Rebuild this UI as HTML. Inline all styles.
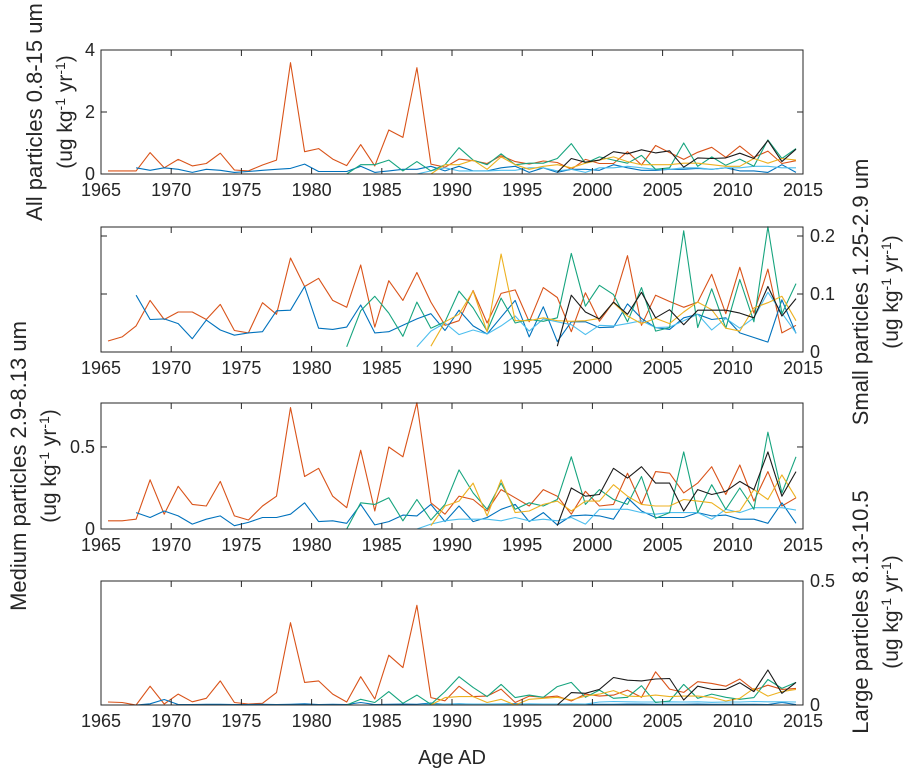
<!DOCTYPE html>
<html><head><meta charset="utf-8"><style>
body{margin:0;background:#fff;}
svg{display:block;font-family:"Liberation Sans",Arial,sans-serif;}
</style></head><body>
<svg id="c" width="914" height="774"></svg>
<script>
const years0 = [1965, 1970, 1975, 1980, 1985, 1990, 1995, 2000, 2005, 2010, 2015];
// start years of each series (data at half-years)
const startOrange = 1965.5, startBlue = 1967.5, startGreen = 1982.5, startYellow = 1988.5, startBlack = 1997.5, startLight = 1987.5;

// Panel 1: All particles
const allOrange = [0.1,0.1,0.1,0.69,0.2,0.47,0.26,0.34,0.67,0.13,0.1,0.29,0.45,3.59,0.72,0.82,0.48,0.27,0.95,0.26,1.42,1.18,3.43,0.32,0.22,0.48,0.43,0.34,0.59,0.4,0.32,0.42,0.37,0.15,0.47,0.34,0.34,0.72,0.29,0.92,0.69,0.47,0.7,0.86,0.54,0.9,0.54,0.74,0.34,0.43];
const allBlue = [0.2,0.12,0.2,0.15,0.05,0.15,0.12,0.05,0.08,0.12,0.15,0.18,0.32,0.08,0.08,0.08,0.25,0.05,0.1,0.15,0.15,0.25,0.1,0.25,0.1,0.1,0.2,0.25,0.05,0.2,0.05,0.15,0.15,0.12,0.3,0.2,0.12,0.12,0.15,0.15,0.18,0.15,0.2,0.1,0.1,0.05,0.3,0.05];
const allGreen = [0,0.3,0.3,0.45,0.1,0.4,0.1,0.3,0.85,0.45,0.3,0.65,0.3,0.35,0.35,0.5,0.98,0.35,0.55,0.45,0.35,0.6,0.15,0.2,1.0,0.25,0.55,0.28,0.48,0.25,1.1,0.5,0.82];
const allYellow = [0,0.3,0.3,0.45,0.15,0.55,0.3,0.15,0.25,0.3,0.2,0.35,0.45,0.55,0.4,0.3,0.3,0.3,0.35,0.35,0.3,0.25,0.25,0.5,0.35,0.5,0.45];
const allBlack = [0.05,0.5,0.38,0.45,0.72,0.65,0.78,0.68,0.75,0.22,0.52,0.5,0.52,0.67,0.5,1.08,0.4,0.8];
const allLight = [0,0.1,0.2,0.1,0.1,0.1,0.12,0.12,0.2,0.2,0.1,0.15,0.05,0.2,0.2,0.25,0.2,0.15,0.15,0.2,0.2,0.15,0.2,0.2,0.25,0.25,0.2,0.2];

// Panel 2: Small particles
const smallOrange = [0.019,0.026,0.045,0.089,0.056,0.069,0.069,0.056,0.082,0.037,0.033,0.085,0.065,0.162,0.113,0.127,0.089,0.077,0.15,0.043,0.123,0.089,0.137,0.086,0.046,0.054,0.106,0.05,0.101,0.107,0.052,0.111,0.094,0.035,0.102,0.053,0.086,0.166,0.046,0.098,0.087,0.077,0.086,0.134,0.066,0.146,0.067,0.143,0.033,0.046];
const smallBlue = [0.098,0.056,0.057,0.049,0.023,0.055,0.038,0.029,0.033,0.035,0.071,0.072,0.113,0.041,0.039,0.043,0.081,0.033,0.035,0.046,0.057,0.066,0.037,0.072,0.045,0.031,0.06,0.089,0.026,0.078,0.018,0.052,0.052,0.042,0.043,0.083,0.058,0.042,0.039,0.059,0.065,0.056,0.059,0.033,0.025,0.017,0.09,0.032];
const smallGreen = [0.009,0.071,0.096,0.067,0.027,0.086,0.041,0.052,0.105,0.076,0.036,0.093,0.05,0.056,0.053,0.059,0.17,0.079,0.115,0.099,0.052,0.111,0.036,0.042,0.209,0.042,0.109,0.041,0.125,0.052,0.216,0.066,0.118];
const smallYellow = [0.01,0.052,0.065,0.105,0.035,0.169,0.054,0.054,0.059,0.054,0.053,0.054,0.058,0.085,0.062,0.049,0.058,0.049,0.069,0.086,0.073,0.041,0.036,0.076,0.085,0.096,0.054];
const smallBlack = [0.01,0.098,0.069,0.057,0.086,0.065,0.103,0.059,0.073,0.047,0.072,0.072,0.072,0.067,0.059,0.113,0.062,0.092];
const smallLight = [0.009,0.036,0.05,0.03,0.038,0.031,0.045,0.062,0.036,0.057,0.052,0.047,0.03,0.046,0.045,0.049,0.054,0.042,0.043,0.054,0.065,0.038,0.058,0.041,0.059,0.103,0.067,0.033];

// Panel 3: Medium particles
const medOrange = [0.05,0.05,0.06,0.3,0.09,0.26,0.15,0.14,0.29,0.08,0.055,0.14,0.2,0.74,0.32,0.37,0.2,0.13,0.48,0.11,0.5,0.44,0.77,0.16,0.09,0.2,0.18,0.11,0.24,0.19,0.14,0.24,0.2,0.09,0.23,0.14,0.15,0.34,0.15,0.35,0.34,0.22,0.28,0.38,0.21,0.39,0.17,0.35,0.14,0.19];
const medBlue = [0.1,0.07,0.11,0.08,0.03,0.06,0.08,0.02,0.04,0.07,0.07,0.09,0.16,0.045,0.05,0.035,0.15,0.025,0.045,0.085,0.08,0.15,0.045,0.14,0.045,0.07,0.12,0.15,0.045,0.1,0.025,0.08,0.085,0.08,0.06,0.19,0.11,0.07,0.07,0.07,0.1,0.08,0.085,0.06,0.06,0.035,0.16,0.035];
const medGreen = [0,0.16,0.15,0.19,0.05,0.18,0.055,0.15,0.36,0.22,0.12,0.28,0.12,0.16,0.14,0.18,0.44,0.15,0.24,0.18,0.15,0.32,0.065,0.1,0.47,0.1,0.27,0.12,0.25,0.12,0.59,0.22,0.44];
const medYellow = [0.02,0.14,0.17,0.28,0.08,0.3,0.1,0.11,0.15,0.17,0.11,0.17,0.17,0.27,0.2,0.15,0.14,0.14,0.18,0.17,0.16,0.1,0.11,0.24,0.18,0.33,0.19];
const medBlack = [0.02,0.25,0.2,0.21,0.37,0.31,0.38,0.28,0.28,0.11,0.24,0.21,0.23,0.29,0.24,0.47,0.2,0.35];
const medLight = [0,0.03,0.05,0.06,0.06,0.06,0.05,0.07,0.05,0.06,0.05,0.07,0.03,0.12,0.12,0.12,0.1,0.09,0.1,0.1,0.1,0.06,0.12,0.1,0.13,0.13,0.13,0.115];

// Panel 4: Large particles
const largeOrange = [0.012,0.01,0,0.076,0.004,0.044,0.013,0.027,0.097,0.01,0.004,0.007,0.05,0.332,0.091,0.097,0.044,0.012,0.114,0.024,0.201,0.151,0.402,0.03,0.017,0.076,0.034,0.036,0.064,0.01,0.036,0.031,0.036,0.016,0.044,0.036,0.04,0.06,0.031,0.134,0.064,0.051,0.094,0.087,0.076,0.105,0.06,0.08,0.063,0.067];
const largeBlue = [0,0.005,0.022,0.002,0.002,0.003,0.003,0.002,0.002,0.003,0.002,0.003,0.005,0.002,0.003,0.002,0.01,0.002,0.003,0.004,0.003,0.008,0.003,0.005,0.003,0.003,0.004,0.006,0.002,0.004,0.002,0.003,0.003,0.003,0.003,0.004,0.004,0.003,0.003,0.003,0.004,0.003,0.003,0.003,0.003,0.002,0.01,0.002];
const largeGreen = [0,0.023,0.01,0.054,0.007,0.04,0.003,0.054,0.114,0.071,0.034,0.083,0.03,0.04,0.031,0.074,0.091,0.031,0.06,0.027,0.031,0.078,0.01,0.016,0.083,0.027,0.044,0.031,0.023,0.03,0.103,0.067,0.091];
const largeYellow = [0,0.03,0.034,0.034,0.01,0.023,0,0.023,0.027,0.031,0.02,0.036,0.044,0.058,0.036,0.034,0.04,0.034,0.036,0.036,0.031,0.016,0.027,0.067,0.036,0.054,0.063];
const largeBlack = [0,0.05,0.047,0.063,0.111,0.1,0.097,0.105,0.107,0.02,0.076,0.063,0.063,0.09,0.054,0.141,0.047,0.091];
const largeLight = [0,0.005,0.004,0.005,0.004,0.004,0.005,0.004,0.005,0.004,0.004,0.005,0.004,0.012,0.014,0.013,0.012,0.012,0.013,0.012,0.013,0.011,0.012,0.012,0.014,0.013,0.013,0.012];

const C = {orange:'#D95319', blue:'#0072BD', green:'#16A47E', yellow:'#EDB120', black:'#1a1a1a', light:'#4DBEEE'};
const NS = 'http://www.w3.org/2000/svg';
const svg = document.getElementById('c');
function mk(tag, attrs, parent){const e=document.createElementNS(NS,tag);for(const k in attrs)e.setAttribute(k,attrs[k]);(parent||svg).appendChild(e);return e;}
const X0=101, X1=803;
function xs(y){return X0+(y-1965)/(50)*(X1-X0);}

const panels = [
 {name:'all', top:50, bot:174, ymax:4, side:'left', ticks:[0,2,4], labels:['0','2','4'],
  series:[['orange',startOrange,allOrange],['blue',startBlue,allBlue],['light',startLight,allLight],['green',startGreen,allGreen],['yellow',startYellow,allYellow],['black',startBlack,allBlack]]},
 {name:'small', top:227, bot:352, ymax:0.2155, side:'right', ticks:[0,0.1,0.2], labels:['0','0.1','0.2'],
  series:[['orange',startOrange,smallOrange],['blue',startBlue,smallBlue],['light',startLight,smallLight],['green',startGreen,smallGreen],['yellow',startYellow,smallYellow],['black',startBlack,smallBlack]]},
 {name:'medium', top:403, bot:529, ymax:0.768, side:'left', ticks:[0,0.5], labels:['0','0.5'],
  series:[['orange',startOrange,medOrange],['blue',startBlue,medBlue],['light',startLight,medLight],['green',startGreen,medGreen],['yellow',startYellow,medYellow],['black',startBlack,medBlack]]},
 {name:'large', top:581, bot:705, ymax:0.5, side:'right', ticks:[0,0.5], labels:['0','0.5'],
  series:[['orange',startOrange,largeOrange],['blue',startBlue,largeBlue],['light',startLight,largeLight],['green',startGreen,largeGreen],['yellow',startYellow,largeYellow],['black',startBlack,largeBlack]]},
];

panels.forEach(p=>{
  const g=mk('g',{});
  
  
  const ys=v=>p.bot-(v/p.ymax)*(p.bot-p.top);
  p.series.forEach(s=>{
    const pts=s[2].map((v,i)=>xs(s[1]+i).toFixed(1)+','+ys(v).toFixed(1)).join(' ');
    const pl=mk('polyline',{points:pts,fill:'none',stroke:C[s[0]],'stroke-width':1.1,'stroke-linejoin':'round'},g);
    
    
  });
  const fr=mk('rect',{x:X0,y:p.top,width:X1-X0,height:p.bot-p.top,fill:'none',stroke:'#262626','stroke-width':1},g);
  
  
  years0.forEach(yr=>{
    const x=xs(yr);
    mk('line',{x1:x,x2:x,y1:p.bot,y2:p.bot-6,stroke:'#262626'},g);
    mk('line',{x1:x,x2:x,y1:p.top,y2:p.top+6,stroke:'#262626'},g);
    const t=mk('text',{x:x,y:p.bot+22,'text-anchor':'middle','font-size':18,fill:'#262626'},g);
    t.textContent=yr;
    
    
  });
  p.ticks.forEach((v,i)=>{
    const y=ys(v);
    mk('line',{x1:X0,x2:X0+6,y1:y,y2:y,stroke:'#262626'},g);
    mk('line',{x1:X1,x2:X1-6,y1:y,y2:y,stroke:'#262626'},g);
    const t=mk('text',{x:p.side==='left'?X0-6:X1+7,y:y+6,'text-anchor':p.side==='left'?'end':'start','font-size':18,fill:'#262626'},g);
    t.textContent=p.labels[i];
    
    
  });
});

function ylabel(x1,x2,cy,l1,name){
  const g=mk('g',{});
  
  
  const a=mk('text',{x:0,y:0,transform:`translate(${x1},${cy}) rotate(-90)`,'text-anchor':'middle','font-size':22,fill:'#262626'},g);
  a.textContent=l1;
  const b=mk('text',{x:0,y:0,transform:`translate(${x2},${cy}) rotate(-90)`,'text-anchor':'middle','font-size':21,fill:'#262626'},g);
  b.innerHTML='(ug kg<tspan dy="-7" font-size="14">-1</tspan><tspan dy="7"> yr</tspan><tspan dy="-7" font-size="14">-1</tspan><tspan dy="7">)</tspan>';
}
ylabel(42,72,112,'All particles 0.8-15 um','all-y-axis-title');
ylabel(868,898,292,'Small particles 1.25-2.9 um','small-y-axis-title');
ylabel(26,56,466,'Medium particles 2.9-8.13 um','medium-y-axis-title');
ylabel(868,898,612,'Large particles 8.13-10.5','large-y-axis-title');
const xl=mk('text',{x:452,y:764,'text-anchor':'middle','font-size':20,fill:'#262626'});
xl.textContent='Age AD';


</script>
</body></html>
